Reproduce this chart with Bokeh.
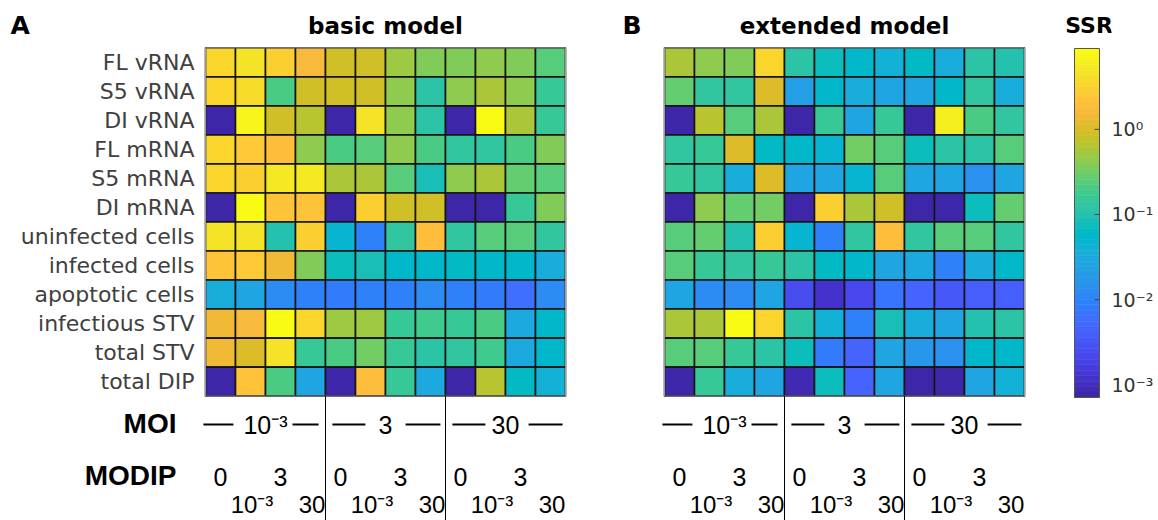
from bokeh.plotting import figure
from bokeh.models import (ColumnDataSource, Range1d, LogColorMapper, LogScale, LogAxis,
                          FixedTicker, CustomJSTickFormatter)
from bokeh.core.properties import value
from bokeh.embed import file_html
from bokeh.resources import INLINE

# ---------------- data ----------------
row_labels = ["FL vRNA", "S5 vRNA", "DI vRNA", "FL mRNA", "S5 mRNA", "DI mRNA",
              "uninfected cells", "infected cells", "apoptotic cells",
              "infectious STV", "total STV", "total DIP"]
moi_labels = ["10\u207b\u00b3", "3", "30"]
modip_labels = ["0", "10\u207b\u00b3", "3", "30"]
panel_titles = ["basic model", "extended model"]
panel_letters = ["A", "B"]

# log10(SSR) per row (12 conditions: 3 MOI groups x 4 MODIP)
log_ssr_basic = [
    [0.54, 0.66, 0.50, 0.21, -0.06, -0.03, -0.30, -0.43, -0.43, -0.35, -0.43, -0.63],
    [0.54, 0.62, -0.67, -0.03, -0.03, -0.03, -0.35, -0.96, -0.35, -0.22, -0.35, -0.80],
    [-3.2, 0.87, -0.06, -0.18, -3.2, 0.66, -0.35, -0.92, -3.2, 0.95, -0.22, -0.80],
    [0.54, 0.42, 0.25, -0.35, -0.71, -0.63, -0.35, -0.71, -0.88, -0.88, -0.71, -0.43],
    [0.54, 0.46, 0.75, 0.75, -0.22, -0.22, -0.59, -1.04, -0.39, -0.22, -0.55, -0.63],
    [-3.2, 0.95, 0.34, 0.34, -3.2, 0.50, -0.06, -0.06, -3.2, -3.2, -0.80, -0.43],
    [0.66, 0.66, -1.00, 0.50, -1.35, -2.04, -0.88, 0.29, -0.88, -0.63, -0.63, -0.88],
    [0.34, 0.42, 0.13, -0.43, -1.14, -1.04, -1.27, -1.27, -1.19, -1.27, -1.23, -1.47],
    [-1.43, -1.55, -1.88, -2.00, -2.08, -2.04, -2.00, -1.88, -2.04, -2.08, -2.25, -1.92],
    [0.17, 0.21, 0.95, 0.54, -0.30, -0.30, -0.84, -0.76, -0.80, -0.67, -1.51, -1.23],
    [0.17, 0.01, 0.66, -0.84, -0.67, -0.51, -0.84, -0.96, -0.88, -0.76, -1.51, -1.27],
    [-3.2, 0.34, -0.67, -1.55, -3.2, 0.29, -0.84, -1.51, -3.2, -0.18, -1.19, -1.39],
]
log_ssr_extended = [
    [-0.22, -0.39, -0.43, 0.54, -0.96, -1.14, -1.27, -1.39, -1.19, -1.47, -0.92, -1.00],
    [-0.55, -0.88, -0.88, 0.01, -1.63, -1.27, -1.43, -1.55, -1.55, -1.23, -0.88, -1.43],
    [-3.2, -0.18, -0.59, -0.22, -3.2, -0.84, -1.55, -0.80, -3.2, 0.79, -0.71, -0.88],
    [-0.88, -0.80, 0.01, -1.19, -1.23, -1.35, -0.47, -0.63, -1.14, -0.92, -0.92, -0.59],
    [-0.84, -0.88, -1.43, 0.01, -1.59, -1.55, -1.35, -0.63, -1.59, -1.59, -1.84, -1.59],
    [-3.2, -0.39, -0.55, -0.51, -3.2, 0.46, -0.22, -0.06, -3.2, -3.2, -1.14, -0.55],
    [-0.59, -0.55, -1.00, 0.50, -1.35, -2.04, -0.88, 0.29, -0.88, -0.63, -0.63, -0.88],
    [-0.59, -0.80, -0.88, -0.80, -0.92, -1.19, -1.27, -1.59, -1.51, -2.00, -1.43, -1.27],
    [-1.59, -1.92, -1.88, -1.59, -2.58, -2.95, -2.70, -2.17, -2.37, -2.49, -2.41, -2.41],
    [-0.22, -0.22, 0.95, 0.54, -0.92, -1.39, -2.00, -1.10, -1.47, -1.55, -1.00, -0.92],
    [-0.59, -0.59, -0.80, -0.96, -1.14, -2.08, -2.33, -1.55, -1.80, -1.84, -1.27, -1.27],
    [-3.2, -0.80, -1.43, -1.59, -3.07, -1.14, -2.33, -1.55, -3.2, -3.2, -1.55, -1.39],
]
log_low, log_high = -3.15, 0.95          # colour-scale limits (log10 SSR)
cbar_ticks = [1e-3, 1e-2, 1e-1, 1.0]
cbar_title = "SSR"

# ---------------- parula colormap ----------------
_parula = [
    (0.2422, 0.1504, 0.6603), (0.2504, 0.1650, 0.7076), (0.2578, 0.1818, 0.7511), (0.2647, 0.1978, 0.7952),
    (0.2706, 0.2147, 0.8364), (0.2751, 0.2342, 0.8710), (0.2783, 0.2559, 0.8991), (0.2803, 0.2782, 0.9221),
    (0.2813, 0.3006, 0.9414), (0.2810, 0.3228, 0.9579), (0.2795, 0.3447, 0.9717), (0.2760, 0.3667, 0.9829),
    (0.2699, 0.3892, 0.9906), (0.2602, 0.4123, 0.9952), (0.2440, 0.4358, 0.9988), (0.2206, 0.4603, 0.9973),
    (0.1963, 0.4847, 0.9892), (0.1834, 0.5074, 0.9798), (0.1786, 0.5289, 0.9682), (0.1764, 0.5499, 0.9520),
    (0.1687, 0.5703, 0.9359), (0.1540, 0.5902, 0.9218), (0.1460, 0.6091, 0.9079), (0.1380, 0.6276, 0.8973),
    (0.1248, 0.6459, 0.8883), (0.1113, 0.6635, 0.8763), (0.0952, 0.6798, 0.8598), (0.0689, 0.6948, 0.8394),
    (0.0297, 0.7082, 0.8163), (0.0036, 0.7203, 0.7917), (0.0067, 0.7312, 0.7660), (0.0433, 0.7411, 0.7394),
    (0.0964, 0.7500, 0.7120), (0.1408, 0.7584, 0.6842), (0.1717, 0.7670, 0.6554), (0.1938, 0.7758, 0.6251),
    (0.2161, 0.7843, 0.5923), (0.2470, 0.7918, 0.5567), (0.2906, 0.7973, 0.5188), (0.3406, 0.8008, 0.4789),
    (0.3909, 0.8029, 0.4354), (0.4456, 0.8024, 0.3909), (0.5044, 0.7993, 0.3480), (0.5616, 0.7942, 0.3045),
    (0.6174, 0.7876, 0.2612), (0.6720, 0.7793, 0.2227), (0.7242, 0.7698, 0.1910), (0.7738, 0.7598, 0.1646),
    (0.8203, 0.7498, 0.1535), (0.8634, 0.7406, 0.1596), (0.9035, 0.7330, 0.1774), (0.9393, 0.7288, 0.2100),
    (0.9728, 0.7298, 0.2394), (0.9956, 0.7434, 0.2371), (0.9970, 0.7659, 0.2199), (0.9952, 0.7893, 0.2028),
    (0.9892, 0.8136, 0.1885), (0.9786, 0.8386, 0.1766), (0.9676, 0.8639, 0.1643), (0.9610, 0.8890, 0.1537),
    (0.9597, 0.9135, 0.1423), (0.9628, 0.9373, 0.1265), (0.9691, 0.9606, 0.1064), (0.9769, 0.9839, 0.0805),
]
parula = ["#%02x%02x%02x" % tuple(int(round(c * 255)) for c in rgb) for rgb in _parula]

ssr_low, ssr_high = 10 ** log_low, 10 ** log_high
mapper = LogColorMapper(palette=parula, low=ssr_low, high=ssr_high)

# ---------------- layout (1 x-unit = one column = 30 px, 1 y-unit = one row) ----------------
W, H = 1158, 520
RIGHT_PANEL = 47                 # room for the colour-bar tick labels
FRAME_R = W - RIGHT_PANEL
X0, COLW = 205.0, 30.0
Y0, ROWH = 47.3, 29.03
B_OFF = (664.0 - X0) / COLW      # column offset of panel B
CB_L, CB_R, CB_T, CB_B = 1074.0, 1099.0, 48.0, 397.0   # colour-bar box in page pixels


def xu(px):
    return (px - X0) / COLW


def yu(py):
    return (py - Y0) / ROWH


dec_px = (CB_B - CB_T) / (log_high - log_low)
cb_range = Range1d(10 ** (log_low - (H - CB_B) / dec_px), 10 ** (log_high + CB_T / dec_px))

p = figure(width=W, height=H, output_backend="svg", toolbar_location=None,
           x_range=Range1d(xu(0), xu(FRAME_R)), y_range=Range1d(yu(H), yu(0)),
           x_axis_type=None, y_axis_type=None,
           min_border_left=0, min_border_top=0, min_border_bottom=0, min_border_right=RIGHT_PANEL)
p.extra_y_ranges = {"cb": cb_range}
p.extra_y_scales = {"cb": LogScale()}
p.grid.visible = False
p.outline_line_color = None
p.background_fill_color = "white"
p.border_fill_color = "white"

FONT = "DejaVu Sans"
ARIAL = "Liberation Sans"
letter_px = [10, 622]

for k, data in enumerate([log_ssr_basic, log_ssr_extended]):
    off = k * B_OFF
    xs, ys, vals = [], [], []
    for r, rvals in enumerate(data):
        for c, v in enumerate(rvals):
            xs.append(off + c + 0.5)
            ys.append(r + 0.5)
            vals.append(10 ** v)
    src = ColumnDataSource(dict(x=xs, y=ys, ssr=vals))
    p.rect(x="x", y="y", width=1, height=1, source=src,
           fill_color={"field": "ssr", "transform": mapper},
           line_color="#151515", line_width=1.6)
    n_r, n_c = len(data), len(data[0])
    p.rect(x=[off + n_c / 2], y=[n_r / 2], width=n_c, height=n_r,
           fill_color=None, line_color="#9a9a9a", line_width=1)

    # panel letter and title
    p.text(x=[xu(letter_px[k])], y=[yu(25)], text=[panel_letters[k]],
           text_font=value(FONT), text_font_style="bold", text_font_size=value("25px"),
           text_align="left", text_baseline="middle", text_color="black")
    p.text(x=[off + n_c / 2], y=[yu(25)], text=[panel_titles[k]],
           text_font=value(FONT), text_font_style="bold", text_font_size=value("23px"),
           text_align="center", text_baseline="middle", text_color="black")

    # group separators below the grid
    p.segment(x0=[off + 4, off + 8], y0=[n_r, n_r], x1=[off + 4, off + 8], y1=[yu(H + 5)] * 2,
              line_color="black", line_width=1)

    # MOI row: labels with dashes
    p.text(x=[off + 4 * g + 2 for g in range(3)], y=[yu(424)] * 3, text=moi_labels,
           text_font=value(ARIAL), text_font_size=value("25px"),
           text_align="center", text_baseline="middle", text_color="black")
    dash_l = [(-0.07, 0.93), (4.23, 5.33), (8.23, 9.33)]
    dash_r = [(2.9, 3.77), (6.67, 7.83), (10.77, 11.9)]
    segs = dash_l + dash_r
    p.segment(x0=[off + a for a, b in segs], x1=[off + b for a, b in segs],
              y0=[yu(424)] * 6, y1=[yu(424)] * 6, line_color="black", line_width=2)

    # MODIP row (two staggered lines)
    mx_top, mt_top, mx_bot, mt_bot = [], [], [], []
    for g in range(3):
        for j, lab in enumerate(modip_labels):
            if j % 2 == 0:
                mx_top.append(off + 4 * g + j + 0.5)
                mt_top.append(lab)
            else:
                mx_bot.append(off + 4 * g + j + 0.55)
                mt_bot.append(lab)
    p.text(x=mx_top, y=[yu(476)] * len(mx_top), text=mt_top,
           text_font=value(ARIAL), text_font_size=value("25px"),
           text_align="center", text_baseline="middle", text_color="black")
    p.text(x=mx_bot, y=[yu(504)] * len(mx_bot), text=mt_bot,
           text_font=value(ARIAL), text_font_size=value("24px"),
           text_align="center", text_baseline="middle", text_color="black")

# row labels (panel A only)
p.text(x=[xu(194)] * len(row_labels), y=[r + 0.5 for r in range(len(row_labels))],
       text=row_labels, text_font=value(FONT), text_font_size=value("22px"),
       text_align="right", text_baseline="middle", text_color="#404040")

# MOI / MODIP headers
p.text(x=[xu(176), xu(176)], y=[yu(423), yu(475)], text=["MOI", "MODIP"],
       text_font=value(ARIAL), text_font_style="bold", text_font_size=value("28px"),
       text_align="right", text_baseline="middle", text_color="black")

# ---------------- colour bar (log axis on the right) ----------------
n = len(parula)
ratio = ssr_high / ssr_low
edges = [ssr_low * ratio ** (i / n) for i in range(n + 1)]
p.quad(left=xu(CB_L), right=xu(CB_R), bottom=edges[:-1], top=edges[1:],
       fill_color=parula, line_color=parula, line_width=0.6, y_range_name="cb")
p.quad(left=[xu(CB_L)], right=[xu(CB_R)], bottom=[ssr_low], top=[ssr_high],
       fill_color=None, line_color="#555555", line_width=1, y_range_name="cb")
p.segment(x0=[xu(CB_R - 5)] * len(cbar_ticks), x1=[xu(CB_R)] * len(cbar_ticks),
          y0=cbar_ticks, y1=cbar_ticks, line_color="#444444", line_width=1, y_range_name="cb")
p.text(x=[xu((CB_L + CB_R) / 2 + 2)], y=[yu(25)], text=[cbar_title],
       text_font=value(FONT), text_font_style="bold", text_font_size=value("22px"),
       text_align="center", text_baseline="middle", text_color="black")

sup = CustomJSTickFormatter(code="""
    const e = Math.round(Math.log10(tick));
    const m = {'0':'\u2070','1':'\u00b9','2':'\u00b2','3':'\u00b3','-':'\u207b'};
    return '10' + String(e).split('').map(ch => m[ch]).join('');
""")
cax = LogAxis(y_range_name="cb", ticker=FixedTicker(ticks=cbar_ticks), formatter=sup,
              axis_line_color=None, major_tick_line_color=None, minor_tick_line_color=None,
              major_tick_in=0, major_tick_out=0, major_label_standoff=0,
              major_label_text_font=FONT, major_label_text_font_size="19px",
              major_label_text_color="#333333")
p.add_layout(cax, "right")

open("out.html", "w").write(file_html(p, INLINE))
